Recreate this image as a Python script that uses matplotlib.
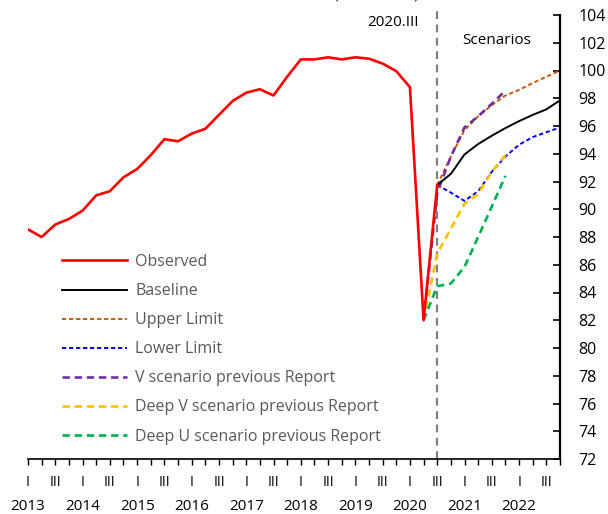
import numpy as np
import matplotlib.pyplot as plt
from matplotlib.transforms import blended_transform_factory

plt.rcParams['font.family'] = ['Open Sans', 'DejaVu Sans']

# quarters 2013.I ... 2022.IV -> index 0..39
years = [str(y) for y in range(2013, 2023)]
quarter_labels = ['I', '', 'III', '']

observed = [88.55, 88.0, 88.9, 89.3, 89.9, 91.0, 91.3, 92.3, 92.9, 93.9,
            95.05, 94.9, 95.45, 95.8, 96.8, 97.8, 98.4, 98.65, 98.2, 99.55,
            100.8, 100.8, 100.95, 100.8, 100.95, 100.85, 100.5, 99.95, 98.8,
            82.0, 91.75]
baseline = [91.75, 92.55, 93.95, 94.7, 95.3, 95.85, 96.35, 96.8, 97.2, 97.85]
upper = [91.75, 93.8, 95.7, 96.7, 97.5, 98.2, 98.6, 99.1, 99.55, 100.0]
lower = [91.75, 91.2, 90.6, 91.3, 92.7, 93.8, 94.65, 95.2, 95.55, 95.9]
v_prev = [82.0, 91.2, 93.8, 95.9, 96.7, 97.6, 98.55]
deep_v_prev = [82.0, 86.8, 88.6, 90.4, 91.1, 92.7, 93.9]
deep_u_prev = [82.0, 84.45, 84.65, 85.85, 88.0, 90.2, 92.4]

x_obs = np.arange(len(observed))
x_scen = np.arange(30, 30 + len(baseline))
x_prev = np.arange(29, 29 + len(v_prev))

fig = plt.figure(figsize=(6.08, 5.14), dpi=100)
W, H = 608, 514
ax = fig.add_axes([28 / W, 1 - 459 / H, (560 - 28) / W, (459 - 15) / H])

# vertical marker at 2020.III
ax.plot([30, 30], [72, 104.6], color='#808080', lw=1.6, dashes=(3.5, 2.5),
        clip_on=False, zorder=1)

ax.plot(x_obs, observed, color='#FF0000', lw=1.9, label='Observed', zorder=5)
ax.plot(x_scen, baseline, color='black', lw=1.4, label='Baseline', zorder=4)
ax.plot(x_scen, upper, color='#C55A11', lw=1.4, dashes=(2.2, 1.4),
        label='Upper Limit', zorder=3)
ax.plot(x_scen, lower, color='#0000FF', lw=1.4, dashes=(2.2, 1.4),
        label='Lower Limit', zorder=3)
ax.plot(x_prev, v_prev, color='#7030A0', lw=1.9, dashes=(2.8, 1.8),
        label='V scenario previous Report', zorder=3)
ax.plot(x_prev, deep_v_prev, color='#FFC000', lw=1.9, dashes=(2.8, 1.8),
        label='Deep V scenario previous Report', zorder=3)
ax.plot(x_prev, deep_u_prev, color='#00B050', lw=1.9, dashes=(2.8, 1.8),
        label='Deep U scenario previous Report', zorder=3)

ax.set_xlim(0, 39)
ax.set_ylim(72, 104)

for s in ['left', 'top']:
    ax.spines[s].set_visible(False)
ax.spines['bottom'].set_linewidth(1.2)
ax.spines['right'].set_linewidth(1.6)

ax.yaxis.tick_right()
ax.set_yticks(np.arange(72, 105, 2))
ax.tick_params(axis='y', direction='in', length=5, width=1.2, labelsize=11.5,
               pad=13, colors='black')

ax.set_xticks(np.arange(0, 40))
ax.set_xticklabels([])
ax.tick_params(axis='x', direction='out', length=4, width=1.0)

trans = blended_transform_factory(ax.transData, fig.transFigure)
for i in range(40):
    lab = quarter_labels[i % 4]
    if lab:
        ax.text(i, 1 - 483 / H, lab, transform=trans, ha='center', va='center',
                fontsize=10, color='black')
for k, yr in enumerate(years):
    ax.text(4 * k, 1 - 507 / H, yr, transform=trans, ha='center',
            va='center', fontsize=11, color='black')

fig.text(419 / W, 1 - 22 / H, '2020.III', ha='right', va='center', fontsize=11)
fig.text(497 / W, 1 - 40 / H, 'Scenarios', ha='center', va='center', fontsize=11)
fig.text(376 / W, 1 + 1.5 / H, '(2019=100)', ha='center', va='baseline',
         fontsize=12, color='#1F3864')

ax.legend(loc='upper left', bbox_to_anchor=(62 / W, 1 - 254 / H),
          bbox_transform=fig.transFigure, frameon=False, fontsize=11.5,
          handlelength=4.1, handletextpad=0.5, labelspacing=0.82,
          borderpad=0, borderaxespad=0, labelcolor='#595959')

fig.savefig('out.png', dpi=100)
